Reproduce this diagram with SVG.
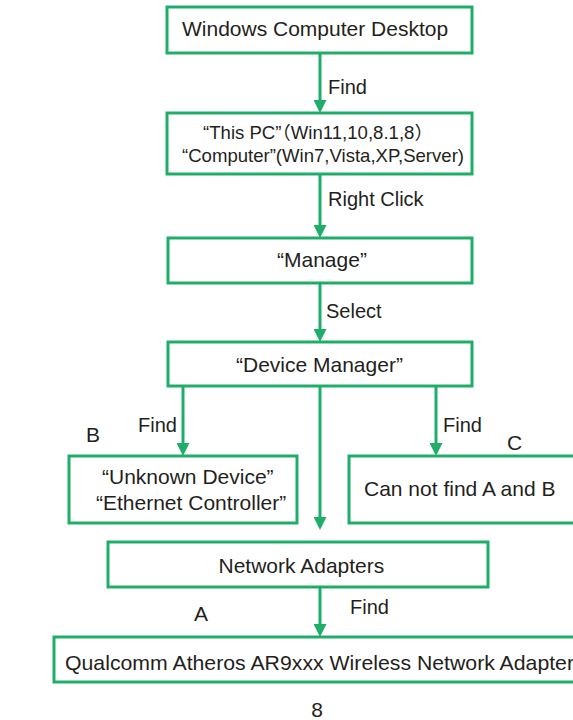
<svg xmlns="http://www.w3.org/2000/svg" width="573" height="720" viewBox="0 0 573 720">
<style>
.box{fill:#ffffff;stroke:#1fae6a;stroke-width:3}
.edge{stroke:#1fae6a;stroke-width:3;fill:none;marker-end:url(#ah)}
text{font-family:"Liberation Sans",Arial,"Noto Sans CJK SC",sans-serif;fill:#231f20}
.t{font-size:21px}
.s{font-size:18px}
.l{font-size:20px}
</style>
<defs>
<marker id="ah" markerUnits="userSpaceOnUse" markerWidth="13" markerHeight="13" viewBox="0 0 13 13" refX="3" refY="6.5" orient="auto">
<path d="M0,0 L13,6.5 L0,13 z" fill="#1fae6a"/>
</marker>
</defs>
<rect width="573" height="720" fill="#ffffff"/>
<g id="connectors">
<line class="edge" x1="320" y1="53" x2="320" y2="103"/>
<line class="edge" x1="320" y1="174" x2="320" y2="228"/>
<line class="edge" x1="320" y1="283" x2="320" y2="332"/>
<line class="edge" x1="183" y1="386" x2="183" y2="446"/>
<line class="edge" x1="436" y1="386" x2="436" y2="446"/>
<line class="edge" x1="320" y1="386" x2="320" y2="520"/>
<line class="edge" x1="320" y1="587" x2="320" y2="627"/>
</g>
<g id="edge-labels">
<text class="l" x="328" y="94">Find</text>
<text class="l" x="328" y="206">Right Click</text>
<text class="l" x="326" y="318">Select</text>
<text class="l" x="138" y="432">Find</text>
<text class="l" x="443" y="432">Find</text>
<text class="l" x="350" y="614">Find</text>
<text class="t" x="86" y="442">B</text>
<text class="t" x="507" y="450">C</text>
<text class="t" x="194" y="621">A</text>
</g>
<g id="n-desktop">
<rect class="box" x="167" y="7" width="305" height="46"/>
<text class="t" x="182" y="36">Windows Computer Desktop</text>
</g>
<g id="n-thispc">
<rect class="box" x="167" y="113" width="305" height="61"/>
<text class="s" x="203" y="139" textLength="230" lengthAdjust="spacingAndGlyphs">“This PC”（Win11,10,8.1,8）</text>
<text class="s" x="182" y="162" style="font-size:18.4px" textLength="282" lengthAdjust="spacingAndGlyphs">“Computer”(Win7,Vista,XP,Server)</text>
</g>
<g id="n-manage">
<rect class="box" x="168" y="238" width="304" height="45"/>
<text class="t" x="277" y="267">“Manage”</text>
</g>
<g id="n-devmgr">
<rect class="box" x="168" y="342" width="304" height="44"/>
<text class="t" x="236" y="372">“Device Manager”</text>
</g>
<g id="n-unknown">
<rect class="box" x="69" y="456" width="228" height="67"/>
<text class="t" x="102" y="484">“Unknown Device”</text>
<text class="t" x="96" y="510">“Ethernet Controller”</text>
</g>
<g id="n-notfound">
<rect class="box" x="349" y="456" width="240" height="67"/>
<text class="t" x="364" y="496">Can not find A and B</text>
</g>
<g id="n-netadapters">
<rect class="box" x="108" y="542" width="380" height="45"/>
<text class="t" x="218.5" y="573">Network Adapters</text>
</g>
<g id="n-qualcomm">
<rect class="box" x="54" y="637" width="540" height="45"/>
<text class="t" x="65" y="670" textLength="509" lengthAdjust="spacingAndGlyphs">Qualcomm Atheros AR9xxx Wireless Network Adapter</text>
</g>
<text class="t" x="317" y="717" text-anchor="middle">8</text>
</svg>
